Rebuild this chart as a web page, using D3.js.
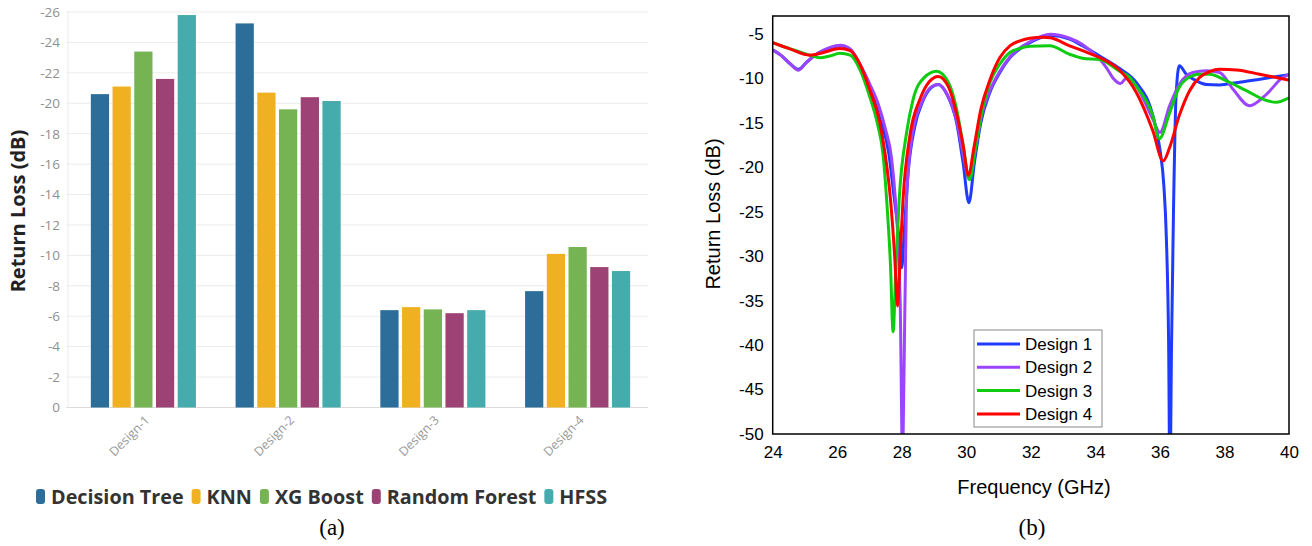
<!DOCTYPE html>
<html>
<head>
<meta charset="utf-8">
<script src="https://cdn.jsdelivr.net/npm/d3@7"></script>
<style>
  body { margin: 0; background: #fff; }
  svg { display: block; }
</style>
</head>
<body>
<svg id="chart" width="1312" height="546"></svg>
<script>
// ---- (a) bar chart data ----
const designs = ['Design-1', 'Design-2', 'Design-3', 'Design-4'];
const models = ['Decision Tree', 'KNN', 'XG Boost', 'Random Forest', 'HFSS'];
const modelColors = ['#2c6e99', '#efb122', '#76b353', '#9c4275', '#45abac'];
const decisionTree = [-20.6, -25.25, -6.4, -7.65];
const knn = [-21.1, -20.7, -6.6, -10.1];
const xgBoost = [-23.4, -19.6, -6.45, -10.55];
const randomForest = [-21.6, -20.4, -6.2, -9.23];
const hfss = [-25.8, -20.15, -6.4, -8.97];
const barTicks = [0, -2, -4, -6, -8, -10, -12, -14, -16, -18, -20, -22, -24, -26];

// ---- (b) return loss curves ----
const design1Freq = [24, 24.25, 24.55, 24.8, 25.05, 25.4, 25.8, 26.1, 26.4, 26.7, 27.0, 27.3, 27.6, 27.75, 27.9, 28.0, 28.08, 28.2, 28.4, 28.65, 28.9, 29.13, 29.4, 29.7, 29.9, 30.08, 30.25, 30.45, 30.73, 31.04, 31.35, 31.66, 31.97, 32.6, 33.2, 33.6, 34.13, 34.75, 35.27, 35.78, 36.0, 36.12, 36.2, 36.27, 36.31, 36.36, 36.42, 36.5, 36.6, 36.82, 37.13, 37.44, 37.85, 38.37, 39.1, 40];
const design1RL = [-6.8, -7.4, -8.4, -9.0, -8.2, -7.2, -6.55, -6.35, -6.75, -8.5, -10.8, -14.3, -18.5, -23.0, -27.5, -31.3, -27, -20.5, -15.5, -12.6, -11.1, -10.7, -11.8, -15.0, -19.5, -24.0, -19.5, -15.0, -11.6, -9.35, -7.7, -6.7, -6.0, -5.2, -5.6, -6.35, -7.5, -8.9, -10.5, -14.2, -18, -22, -28, -40, -56, -40, -25, -12, -8.6, -9.55, -10.3, -10.7, -10.75, -10.5, -10.1, -9.6];

const design2Freq = [24, 24.25, 24.55, 24.8, 25.05, 25.4, 25.8, 26.1, 26.4, 26.7, 27.0, 27.27, 27.5, 27.68, 27.8, 27.95, 28.02, 28.1, 28.15, 28.3, 28.66, 28.9, 29.13, 29.4, 29.7, 29.9, 30.08, 30.25, 30.45, 30.73, 31.04, 31.35, 31.66, 31.97, 32.6, 33.2, 33.6, 34.13, 34.34, 34.55, 34.78, 34.96, 35.27, 35.78, 36.0, 36.3, 36.6, 37.02, 37.44, 37.85, 38.26, 38.78, 39.3, 39.81, 40];
const design2RL = [-6.8, -7.4, -8.4, -9.1, -8.2, -7.2, -6.5, -6.3, -6.7, -8.4, -10.6, -12.9, -15.8, -18.9, -23.5, -35, -52, -35, -23.6, -17, -12.4, -11.0, -10.7, -11.8, -14.8, -18.5, -21.3, -18.5, -14.5, -11.4, -9.2, -7.6, -6.6, -5.9, -5.05, -5.5, -6.2, -7.85, -8.8, -10.0, -10.6, -10.0, -10.9, -14.6, -16.1, -13.1, -10.7, -9.35, -9.17, -9.35, -11.2, -13.1, -11.8, -9.9, -9.55];

const design3Freq = [24, 24.55, 25.15, 25.46, 25.77, 26.08, 26.4, 26.7, 27.0, 27.25, 27.42, 27.53, 27.65, 27.73, 27.82, 27.92, 28.15, 28.35, 28.7, 29.08, 29.45, 29.7, 29.9, 30.1, 30.3, 30.5, 30.73, 31.04, 31.35, 31.66, 31.97, 32.58, 33.2, 33.6, 34.13, 34.75, 35.06, 35.27, 35.78, 35.98, 36.3, 36.6, 36.82, 37.23, 37.54, 38.06, 38.68, 39.3, 39.6, 40];
const design3RL = [-6.0, -6.7, -7.4, -7.7, -7.5, -7.2, -7.4, -9.0, -12.0, -15.2, -18.6, -23.6, -31, -38.5, -31, -23.6, -16.1, -12.4, -9.9, -9.2, -10.5, -13.5, -17.5, -21.4, -17.5, -13.5, -10.5, -8.4, -7.1, -6.65, -6.4, -6.35, -7.3, -7.75, -7.9, -9.2, -9.9, -10.9, -14.2, -16.8, -13.9, -11.0, -10.1, -9.55, -9.55, -10.3, -11.4, -12.5, -12.7, -12.2];

const design4Freq = [24, 24.55, 25.15, 25.57, 26.08, 26.4, 26.7, 27.0, 27.32, 27.48, 27.65, 27.78, 27.87, 27.95, 28.04, 28.25, 28.56, 28.85, 29.13, 29.45, 29.7, 29.9, 30.06, 30.25, 30.45, 30.73, 31.04, 31.35, 31.66, 31.97, 32.37, 32.6, 33.2, 33.6, 34.13, 34.75, 35.27, 35.78, 36.1, 36.3, 36.6, 36.92, 37.23, 37.54, 37.85, 38.37, 39.09, 40];
const design4RL = [-6.0, -6.73, -7.4, -7.1, -6.65, -6.9, -8.4, -11.2, -15.0, -18.4, -23.6, -30, -35.6, -30, -23.6, -16.5, -12.4, -10.4, -9.8, -11.0, -14.0, -17.5, -20.9, -17.5, -13.5, -10.2, -7.67, -6.35, -5.8, -5.5, -5.4, -5.45, -6.35, -6.9, -7.67, -9.1, -11.6, -15.9, -19.3, -17.8, -14.2, -11.4, -9.9, -9.25, -9.0, -9.06, -9.55, -10.2];

const curveNames = ['Design 1', 'Design 2', 'Design 3', 'Design 4'];
const curveColors = ['#1f3bff', '#9b45ff', '#10cc10', '#ff0000'];
const freqTicks = [24, 26, 28, 30, 32, 34, 36, 38, 40];
const rlTicks = [-5, -10, -15, -20, -25, -30, -35, -40, -45, -50];

const svg = d3.select('#chart');

// ================= (a) =================
const barSeries = [decisionTree, knn, xgBoost, randomForest, hfss];
const ya = d3.scaleLinear().domain([0, -26]).range([407.5, 12]);
const xa = d3.scaleBand().domain(designs).range([71, 650]).paddingInner(0.274).paddingOuter(0.137);
const xm = d3.scaleBand().domain(models).range([0, xa.bandwidth()]).paddingInner(0.16);

const gA = svg.append('g');

gA.append('g')
    .selectAll('line')
    .data(barTicks)
    .join('line')
    .attr('x1', 66).attr('x2', 648)
    .attr('y1', d => ya(d)).attr('y2', d => ya(d))
    .attr('stroke', d => d === 0 ? '#dcdcdc' : '#ececec')
    .attr('stroke-width', 1);

gA.append('line')
    .attr('x1', 68).attr('x2', 68)
    .attr('y1', ya(-26)).attr('y2', ya(0))
    .attr('stroke', '#ececec');

const yAxisA = gA.append('g')
    .attr('transform', 'translate(64,0)')
    .call(d3.axisLeft(ya).tickValues(barTicks).tickSize(0).tickPadding(4).tickFormat(d => String(d)));
yAxisA.select('.domain').remove();
yAxisA.selectAll('text')
    .attr('font-family', 'Open Sans')
    .attr('font-size', 13.5)
    .attr('fill', '#8f8f8f');

designs.forEach((dsg, i) => {
    gA.append('g')
        .selectAll('rect')
        .data(models)
        .join('rect')
        .attr('x', m => xa(dsg) + xm(m))
        .attr('width', xm.bandwidth())
        .attr('y', (m, j) => ya(barSeries[j][i]))
        .attr('height', (m, j) => ya(0) - ya(barSeries[j][i]))
        .attr('fill', (m, j) => modelColors[j]);
});

gA.append('g')
    .selectAll('text')
    .data(designs)
    .join('text')
    .attr('transform', d => `translate(${xa(d) + xa.bandwidth() / 2 + 7},${421}) rotate(-45)`)
    .attr('text-anchor', 'end')
    .attr('font-family', 'Open Sans')
    .attr('font-size', 12.5)
    .attr('fill', '#999')
    .text(d => d);

gA.append('text')
    .attr('transform', 'translate(25,211) rotate(-90)')
    .attr('text-anchor', 'middle')
    .attr('font-family', 'Open Sans')
    .attr('font-weight', 'bold')
    .attr('font-size', 20)
    .attr('fill', '#222')
    .text('Return Loss (dB)');

// legend
let lx = 36;
models.forEach((m, j) => {
    gA.append('rect')
        .attr('x', lx).attr('y', 489)
        .attr('width', 9).attr('height', 15)
        .attr('rx', 3)
        .attr('fill', modelColors[j]);
    const t = gA.append('text')
        .attr('x', lx + 15).attr('y', 504)
        .attr('font-family', 'Open Sans')
        .attr('font-weight', 'bold')
        .attr('font-size', 19.8)
        .attr('fill', '#333')
        .text(m);
    lx += 15 + t.node().getComputedTextLength() + 8;
});

svg.append('text')
    .attr('x', 332).attr('y', 535)
    .attr('text-anchor', 'middle')
    .attr('font-family', 'Liberation Serif')
    .attr('font-size', 23)
    .text('(a)');

// ================= (b) =================
const xb = d3.scaleLinear().domain([24, 40]).range([772.7, 1289]);
const yb = d3.scaleLinear().domain([-50, -3]).range([434, 16]);
const gB = svg.append('g');

gB.append('clipPath').attr('id', 'plotclip')
    .append('rect')
    .attr('x', xb(24)).attr('y', yb(-3))
    .attr('width', xb(40) - xb(24)).attr('height', yb(-50) - yb(-3));

const curves = [
    [design1Freq, design1RL],
    [design2Freq, design2RL],
    [design3Freq, design3RL],
    [design4Freq, design4RL]
];

const line = d3.line()
    .x(d => xb(d[0]))
    .y(d => yb(d[1]))
    .curve(d3.curveMonotoneX);

const curveG = gB.append('g').attr('clip-path', 'url(#plotclip)');
curves.forEach((c, i) => {
    const pts = c[0].map((f, k) => [f, c[1][k]]);
    curveG.append('path')
        .datum(pts)
        .attr('fill', 'none')
        .attr('stroke', curveColors[i])
        .attr('stroke-width', 3)
        .attr('stroke-linejoin', 'round')
        .attr('d', line);
});

gB.append('rect')
    .attr('x', xb(24)).attr('y', yb(-3))
    .attr('width', xb(40) - xb(24)).attr('height', yb(-50) - yb(-3))
    .attr('fill', 'none')
    .attr('stroke', '#000')
    .attr('stroke-width', 1.5);

const xAxisB = gB.append('g')
    .attr('transform', `translate(0,${yb(-50)})`)
    .call(d3.axisBottom(xb).tickValues(freqTicks).tickSize(0).tickPadding(12).tickFormat(d => String(d)));
xAxisB.select('.domain').remove();
xAxisB.selectAll('text')
    .attr('font-family', 'Liberation Sans')
    .attr('font-size', 17)
    .attr('fill', '#000');

const yAxisB = gB.append('g')
    .attr('transform', `translate(${xb(24)},0)`)
    .call(d3.axisLeft(yb).tickValues(rlTicks).tickSize(0).tickPadding(9).tickFormat(d => String(d)));
yAxisB.select('.domain').remove();
yAxisB.selectAll('text')
    .attr('font-family', 'Liberation Sans')
    .attr('font-size', 17)
    .attr('fill', '#000');

gB.append('text')
    .attr('x', 1034).attr('y', 494)
    .attr('text-anchor', 'middle')
    .attr('font-family', 'Liberation Sans')
    .attr('font-size', 20)
    .text('Frequency (GHz)');

gB.append('text')
    .attr('transform', 'translate(720,214) rotate(-90)')
    .attr('text-anchor', 'middle')
    .attr('font-family', 'Liberation Sans')
    .attr('font-size', 20)
    .text('Return Loss (dB)');

// legend box
const lg = gB.append('g');
lg.append('rect')
    .attr('x', 974).attr('y', 330)
    .attr('width', 128).attr('height', 97)
    .attr('fill', '#fff')
    .attr('stroke', '#888')
    .attr('stroke-width', 1);
curveNames.forEach((n, i) => {
    const yy = 344 + i * 23.3;
    lg.append('line')
        .attr('x1', 977).attr('x2', 1020)
        .attr('y1', yy).attr('y2', yy)
        .attr('stroke', curveColors[i])
        .attr('stroke-width', 3);
    lg.append('text')
        .attr('x', 1025).attr('y', yy + 6)
        .attr('font-family', 'Liberation Sans')
        .attr('font-size', 17)
        .text(n);
});

svg.append('text')
    .attr('x', 1032).attr('y', 535)
    .attr('text-anchor', 'middle')
    .attr('font-family', 'Liberation Serif')
    .attr('font-size', 23)
    .text('(b)');
</script>
</body>
</html>
